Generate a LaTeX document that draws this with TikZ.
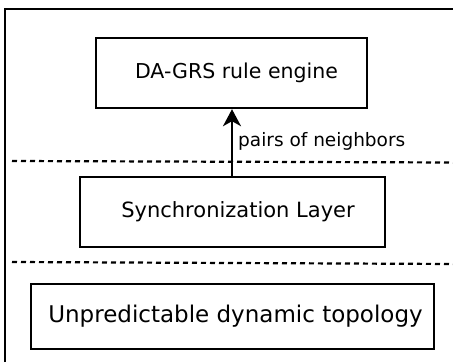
\documentclass[tikz,border=0pt]{standalone}
\usepackage{fontspec}
\setmainfont{DejaVu Sans}
\usetikzlibrary{arrows.meta,positioning}

\begin{document}
\begin{tikzpicture}[
    x=1pt, y=1pt,
    layerbox/.style={draw, rectangle, line width=2.4pt, align=center},
    sep/.style={line width=2.2pt, dash pattern=on 5pt off 4pt},
    arrow/.style={-{Stealth[length=17pt, width=18pt, inset=5pt]}, line width=2.4pt}
]
    \useasboundingbox (0,0) rectangle (453,362);

    % Frame
    \draw[line width=2.4pt] (5,0) -- (5,353) -- (460,353);

    % Nodes
    \node[layerbox, minimum width=271pt, minimum height=70pt, font=\fontsize{20.5}{24}\selectfont] (engine) at (231.5,289) {\hspace{10pt}DA-GRS rule engine};
    \node[layerbox, minimum width=305pt, minimum height=70pt, font=\fontsize{21}{25}\selectfont] (sync) at (232.5,150) {\hspace{11pt}Synchronization Layer};
    \node[layerbox, minimum width=403pt, minimum height=65pt, font=\fontsize{23}{27}\selectfont] (topo) at (232.5,45.5) {\hspace{6pt}Unpredictable dynamic topology};

    % Layer separators
    \draw[sep] (12,201) -- (453,199.5);
    \draw[sep] (12,100) -- (453,98);

    % Arrow
    \draw[arrow] (sync.north -| 232,0) -- (engine.south -| 232,0)
        node[pos=0.44, anchor=base west, inner sep=0pt, xshift=5pt, font=\fontsize{18.5}{22}\selectfont] (pairs) {pairs of neighbors};

\end{tikzpicture}
\end{document}
